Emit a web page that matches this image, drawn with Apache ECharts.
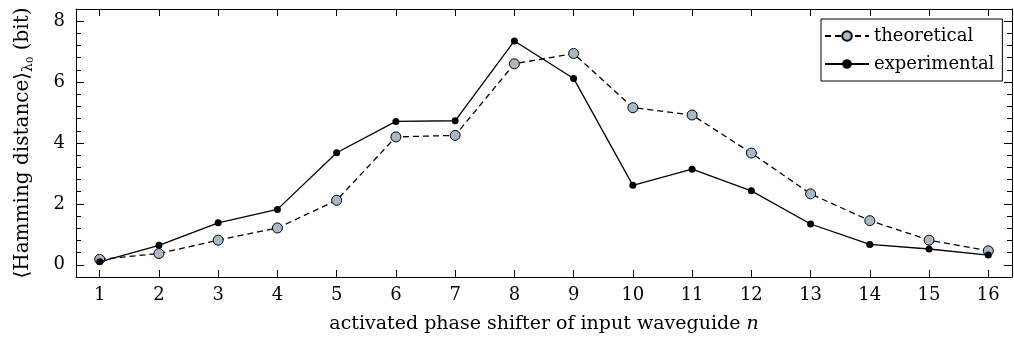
<!DOCTYPE html>
<html>
<head>
<meta charset="utf-8">
<script src="https://cdn.jsdelivr.net/npm/echarts@6/dist/echarts.min.js"></script>
<style>
  html, body { margin: 0; padding: 0; background: #fff; }
  #chart { width: 1014px; height: 339px; }
</style>
</head>
<body>
<div id="chart"></div>
<script>
// Input waveguide index n (phase shifter that is activated)
const waveguides = [1, 2, 3, 4, 5, 6, 7, 8, 9, 10, 11, 12, 13, 14, 15, 16];
// Mean Hamming distance (bit)
const theoretical = [0.18, 0.37, 0.81, 1.21, 2.12, 4.20, 4.25, 6.60, 6.94, 5.16, 4.92, 3.67, 2.33, 1.45, 0.81, 0.46];
const experimental = [0.10, 0.64, 1.38, 1.82, 3.68, 4.71, 4.73, 7.35, 6.12, 2.61, 3.14, 2.43, 1.34, 0.67, 0.52, 0.32];
// Tick positions
const xTicks = waveguides;
const yMajorTicks = [0, 2, 4, 6, 8];
const yMinorTicks = [0.4, 0.8, 1.2, 1.6, 2.4, 2.8, 3.2, 3.6, 4.4, 4.8, 5.2, 5.6, 6.4, 6.8, 7.2, 7.6];

const FONT = 'DejaVu Serif';
const X_MIN = 0.6, X_MAX = 16.4, Y_MIN = -0.4, Y_MAX = 8.4;

const chart = echarts.init(document.getElementById('chart'), null, { renderer: 'canvas' });

function xAxisDef(pos, showLabels) {
  return {
    type: 'value', position: pos, min: X_MIN, max: X_MAX,
    axisLine: { show: true, onZero: false, lineStyle: { color: '#000', width: 1 } },
    axisTick: { show: true, inside: true, length: 7, customValues: xTicks, lineStyle: { color: '#000', width: 1 } },
    axisLabel: showLabels
      ? { show: true, customValues: xTicks, color: '#000', fontFamily: FONT, fontSize: 18, margin: 9 }
      : { show: false },
    splitLine: { show: false }
  };
}

function yAxisDef(pos, ticks, len, showLabels, showLine) {
  return {
    type: 'value', position: pos, min: Y_MIN, max: Y_MAX,
    axisLine: { show: showLine, onZero: false, lineStyle: { color: '#000', width: 1 } },
    axisTick: { show: true, inside: true, length: len, customValues: ticks, lineStyle: { color: '#000', width: 1 } },
    axisLabel: showLabels
      ? { show: true, customValues: ticks, color: '#000', fontFamily: FONT, fontSize: 18, margin: 11 }
      : { show: false },
    splitLine: { show: false }
  };
}

const xBottom = xAxisDef('bottom', true);
xBottom.name = '{a|activated phase shifter of input waveguide }{i|n}';
xBottom.nameLocation = 'middle';
xBottom.nameGap = 38;
xBottom.nameTextStyle = {
  rich: {
    a: { fontFamily: FONT, fontSize: 19, color: '#000' },
    i: { fontFamily: FONT, fontSize: 19, fontStyle: 'italic', color: '#000' }
  }
};

const yLeft = yAxisDef('left', yMajorTicks, 8, true, true);
yLeft.name = '{a|⟨Hamming distance⟩}{s|λ}{ss|0}{a| (bit)}';
yLeft.nameLocation = 'middle';
yLeft.nameRotate = 90;
yLeft.nameGap = 41;
yLeft.nameTextStyle = {
  rich: {
    a: { fontFamily: FONT, fontSize: 20, color: '#000', lineHeight: 24 },
    s: { fontFamily: FONT, fontSize: 14, color: '#000', verticalAlign: 'bottom', lineHeight: 24, padding: [9, 0, 0, 0] },
    ss: { fontFamily: FONT, fontSize: 10, color: '#000', verticalAlign: 'bottom', lineHeight: 24, padding: [12, 0, 0, 0] }
  }
};

const option = {
  backgroundColor: '#fff',
  animation: false,
  grid: { left: 76, right: 2, top: 9, bottom: 56, containLabel: false },
  legend: {
    left: 821, top: 19,
    orient: 'vertical',
    backgroundColor: '#fff',
    borderColor: '#000', borderWidth: 1, borderRadius: 0,
    padding: [8, 8, 8, 3],
    itemWidth: 44, itemHeight: 12, itemGap: 10,
    textStyle: { fontFamily: FONT, fontSize: 18, color: '#000' },
    data: ['theoretical', 'experimental']
  },
  xAxis: [xBottom, xAxisDef('top', false)],
  yAxis: [
    yLeft,
    yAxisDef('left', yMinorTicks, 5, false, false),
    yAxisDef('right', yMajorTicks, 8, false, true),
    yAxisDef('right', yMinorTicks, 5, false, false)
  ],
  series: [
    {
      name: 'theoretical', type: 'line',
      data: waveguides.map((n, i) => [n, theoretical[i]]),
      symbol: 'circle', symbolSize: 10,
      lineStyle: { color: '#000', width: 1.3, type: [6, 4] },
      itemStyle: { color: '#a6b9c6', borderColor: '#000', borderWidth: 1 },
      z: 2
    },
    {
      name: 'experimental', type: 'line',
      data: waveguides.map((n, i) => [n, experimental[i]]),
      symbol: 'circle', symbolSize: 7,
      lineStyle: { color: '#000', width: 1.3 },
      itemStyle: { color: '#000', borderColor: '#000', borderWidth: 0 },
      z: 3
    }
  ]
};

chart.setOption(option);
</script>
</body>
</html>
